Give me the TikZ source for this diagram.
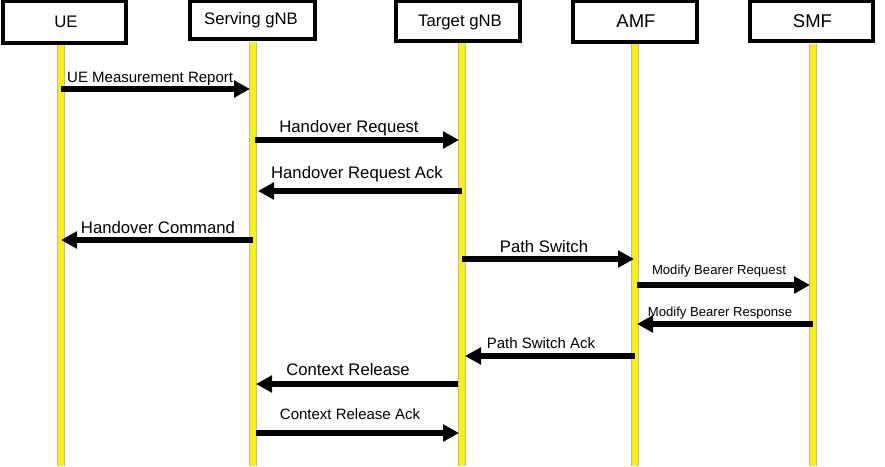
\documentclass[tikz,border=0pt]{standalone}
\usepackage{fontspec}
\setmainfont{Liberation Sans}
\usetikzlibrary{arrows.meta}
\tikzset{
  actor/.style={draw=black, line width=3.2pt, fill=white, inner sep=0pt},
  lifeunder/.style={line width=7.4pt, draw=black!28},
  lifeline/.style={line width=5.8pt, draw=yellow},
  msg/.style={line width=6pt, draw=black, -{Triangle[length=16pt,width=16.5pt]}, shorten >=3pt},
  big/.style={font=\fontsize{16.7}{19}\selectfont, inner sep=0pt, anchor=base},
  mid/.style={font=\fontsize{15}{17}\selectfont, inner sep=0pt, anchor=base},
  small/.style={font=\fontsize{13.1}{15}\selectfont, inner sep=0pt, anchor=base},
}
\begin{document}
\begin{tikzpicture}[x=1pt, y=-1pt]
\useasboundingbox (0,0) rectangle (885,466);
% header boxes
\node[actor, minimum width=123pt, minimum height=42pt] (UEb) at (64.5,22) {};
\node[actor, minimum width=125pt, minimum height=38pt] (SGb) at (252.5,20) {};
\node[actor, minimum width=124pt, minimum height=40pt] (TGb) at (458,21) {};
\node[actor, minimum width=124pt, minimum height=41pt] (AMb) at (635,21.5) {};
\node[actor, minimum width=123pt, minimum height=40pt] (SMb) at (811.5,21) {};
\node[big, anchor=base] (UEt) at (66,27) {UE};
\node[big, anchor=base] (SGt) at (251,24) {Serving gNB};
\node[big, anchor=base] (TGt) at (460,26) {Target gNB};
\node[font=\fontsize{18.5}{21}\selectfont, inner sep=0pt, anchor=base] (AMt) at (636,27) {AMF};
\node[font=\fontsize{18.5}{21}\selectfont, inner sep=0pt, anchor=base] (SMt) at (812.5,27) {SMF};
% lifelines
\coordinate (ue) at (61,45);
\coordinate (sg) at (253,42);
\coordinate (tg) at (462,43);
\coordinate (am) at (635,44);
\coordinate (sm) at (813,44);
\coordinate (ueE) at (61,466);
\coordinate (sgE) at (253,466);
\coordinate (tgE) at (462,466);
\coordinate (amE) at (635,466);
\coordinate (smE) at (813,466);
\foreach \a in {ue,sg,tg,am,sm}{
  \draw[lifeunder] (\a) -- (\a E);
  \draw[lifeline] (\a) -- (\a E);
}
% messages
\draw[msg] (ue |- 0,89) -- (sg |- 0,89);
\node[mid, anchor=base west] (m1) at (67,82) {UE Measurement Report};

\draw[msg] ([xshift=2pt]sg |- 0,140) -- (tg |- 0,140);
\node[big] (m2) at (349,132) {Handover Request};

\draw[msg] (tg |- 0,191) -- ([xshift=2pt]sg |- 0,191);
\node[big] (m3) at (357,178) {Handover Request Ack};

\draw[msg, shorten >=0pt] (sg |- 0,240) -- (ue |- 0,240);
\node[big] (m4) at (158,233) {Handover Command};

\draw[msg, shorten >=1pt] (tg |- 0,259) -- (am |- 0,259);
\node[big] (m5) at (544,252) {Path Switch};

\draw[msg] ([xshift=2pt]am |- 0,285) -- (sm |- 0,285);
\node[small] (m6) at (719,274) {Modify Bearer Request};

\draw[msg, shorten >=2pt] (sm |- 0,324) -- (am |- 0,324);
\node[small] (m7) at (720,316) {Modify Bearer Response};

\draw[msg] (am |- 0,356) -- (tg |- 0,356);
\node[mid] (m8) at (541,348) {Path Switch Ack};

\draw[msg] ([xshift=-4pt]tg |- 0,384) -- (sg |- 0,384);
\node[big] (m9) at (348,375) {Context Release};

\draw[msg] ([xshift=3pt]sg |- 0,433) -- (tg |- 0,433);
\node[mid] (m10) at (350,419) {Context Release Ack};
\end{tikzpicture}
\end{document}
